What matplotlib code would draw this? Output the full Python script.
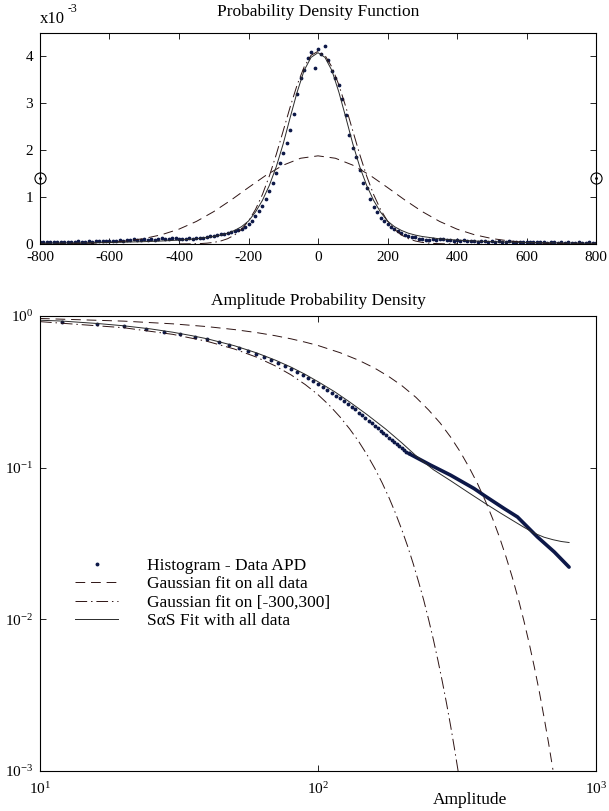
import matplotlib
matplotlib.use('Agg')
import numpy as np
import matplotlib.pyplot as plt
from matplotlib.ticker import FixedLocator, NullLocator, LogFormatterMathtext

plt.rcParams['font.family'] = ['Liberation Serif', 'DejaVu Serif']
plt.rcParams['mathtext.fontset'] = 'custom'
plt.rcParams['mathtext.rm'] = 'Liberation Serif'
plt.rcParams['axes.unicode_minus'] = False
plt.rcParams['font.size'] = 11

# ---------------- top panel data (pdf, units of 1e-3) ----------------
hist_x = list(range(-800, 801, 10))
hist_v = [0.04, 0.05, 0.04, 0.05, 0.04, 0.05, 0.05, 0.04, 0.05, 0.04,
          0.05, 0.06, 0.05, 0.05, 0.06, 0.05, 0.06, 0.07, 0.06, 0.06,
          0.07, 0.06, 0.07, 0.08, 0.07, 0.08, 0.09, 0.10, 0.08, 0.09,
          0.10, 0.08, 0.11, 0.09, 0.10, 0.12, 0.10, 0.11, 0.13, 0.12,
          0.11, 0.10, 0.11, 0.12, 0.11, 0.12, 0.12, 0.13, 0.14, 0.16,
          0.17, 0.19, 0.21, 0.22, 0.23, 0.25, 0.27, 0.29, 0.32, 0.36,
          0.42, 0.49, 0.59, 0.70, 0.82, 0.96, 1.12, 1.30, 1.52, 1.72,
          1.95, 2.15, 2.44, 2.78, 3.20, 3.55, 3.72, 3.96, 4.09, 3.76,
          4.15,
          4.06, 4.22, 3.92, 3.70, 3.55, 3.40, 3.10, 2.76, 2.33, 2.05,
          1.85, 1.58, 1.30, 1.20, 0.95, 0.78, 0.68, 0.56, 0.48, 0.42,
          0.37, 0.32, 0.28, 0.24, 0.20, 0.18, 0.15, 0.14, 0.11, 0.10,
          0.09, 0.09, 0.10, 0.08, 0.10, 0.11, 0.09, 0.08, 0.07, 0.09,
          0.06, 0.08, 0.07, 0.06, 0.07, 0.05, 0.06, 0.07, 0.05, 0.06,
          0.05, 0.07, 0.05, 0.04, 0.06, 0.05, 0.04, 0.05, 0.04, 0.05,
          0.04, 0.05, 0.04, 0.05, 0.04, 0.03, 0.05, 0.04, 0.03, 0.04,
          0.03, 0.04, 0.03, 0.03, 0.04, 0.03, 0.03, 0.04, 0.03, 0.03]

gall_x = list(range(-800, 801, 50))
gall_v = [0.0015, 0.0036, 0.008, 0.017, 0.034, 0.065, 0.117, 0.198, 0.317,
          0.481, 0.691, 0.938, 1.205, 1.464, 1.682, 1.829, 1.880,
          1.829, 1.682, 1.464, 1.205, 0.938, 0.691, 0.481, 0.317, 0.198,
          0.117, 0.065, 0.034, 0.017, 0.008, 0.0036, 0.0015]

g300_x = list(range(-400, 401, 20))
g300_v = [0.0008, 0.0019, 0.0042, 0.0088, 0.018, 0.034, 0.064, 0.113, 0.192,
          0.314, 0.490, 0.735, 1.055, 1.450, 1.912, 2.416, 2.925, 3.394,
          3.775, 4.024, 4.110,
          4.024, 3.775, 3.394, 2.925, 2.416, 1.912, 1.450, 1.055, 0.735,
          0.490, 0.314, 0.192, 0.113, 0.064, 0.034, 0.018, 0.0088, 0.0042,
          0.0019, 0.0008]

sas_x = [-800, -700, -600, -500, -450, -400, -350, -300, -280, -260, -240,
         -220, -200, -180, -160, -140, -120, -100, -80, -60, -40, -20, 0,
         20, 40, 60, 80, 100, 120, 140, 160, 180, 200, 220, 240, 260, 280,
         300, 350, 400, 450, 500, 600, 700, 800]
sas_v = [0.016, 0.022, 0.032, 0.05, 0.064, 0.083, 0.11, 0.16, 0.19, 0.23,
         0.29, 0.37, 0.49, 0.68, 0.93, 1.25, 1.65, 2.14, 2.70, 3.24, 3.70,
         3.98, 4.08,
         3.98, 3.70, 3.24, 2.70, 2.14, 1.65, 1.25, 0.93, 0.68, 0.49, 0.37,
         0.29, 0.23, 0.19, 0.16, 0.11, 0.083, 0.064, 0.05, 0.032, 0.022,
         0.016]

marker_x = [-800, 800]
marker_v = [1.4, 1.4]

# ---------------- bottom panel data (APD) ----------------
apd_amp = list(range(12, 213, 4))
apd_val = [0.917, 0.885, 0.859, 0.821, 0.788, 0.761, 0.730, 0.702, 0.671,
           0.643, 0.612, 0.588, 0.564, 0.536, 0.510, 0.487, 0.465, 0.445,
           0.425, 0.406, 0.388, 0.371, 0.354, 0.338, 0.324, 0.310, 0.298,
           0.286, 0.274, 0.263, 0.252, 0.242, 0.231, 0.221, 0.212, 0.204,
           0.196, 0.188, 0.182, 0.175, 0.169, 0.163, 0.158, 0.152, 0.148,
           0.143, 0.139, 0.135, 0.131, 0.127, 0.124]
tail_amp = [212, 254, 300, 364, 395, 467, 522, 616, 708, 800]
tail_val = [0.124, 0.104, 0.0892, 0.0729, 0.0658, 0.0538, 0.0473, 0.0349,
            0.0278, 0.0221]

apd_gall_amp = [10, 20, 30, 40, 50, 60, 70, 80, 90, 100, 120, 140, 160, 180,
                200, 225, 250, 275, 300, 325, 350, 375, 400, 425, 450, 475,
                500, 525, 550, 575, 600, 625, 650, 675, 700]
apd_gall_val = [0.963, 0.925, 0.888, 0.851, 0.814, 0.778, 0.742, 0.707,
                0.672, 0.639, 0.573, 0.511, 0.453, 0.398, 0.348, 0.291,
                0.240, 0.197, 0.159, 0.127, 0.100, 0.0783, 0.0604, 0.0460,
                0.0346, 0.0257, 0.0189, 0.0137, 0.00982, 0.00694, 0.00485,
                0.00335, 0.00227, 0.00153, 0.00102]

apd_g300_amp = [10, 20, 30, 40, 50, 60, 70, 80, 90, 100, 110, 120, 130, 140,
                150, 160, 170, 180, 190, 200, 210, 220, 230, 240, 250, 260,
                270, 280, 290, 300, 310, 320]
apd_g300_val = [0.918, 0.837, 0.757, 0.680, 0.606, 0.536, 0.470, 0.409,
                0.353, 0.303, 0.257, 0.216, 0.180, 0.149, 0.122, 0.0991,
                0.0796, 0.0635, 0.0501, 0.0392, 0.0304, 0.0233, 0.0177,
                0.0134, 0.00996, 0.00736, 0.00537, 0.00389, 0.00279,
                0.00198, 0.00139, 0.00097]

apd_sas_amp = [10, 12, 16, 20, 25, 30, 35, 40, 50, 60, 70, 80, 90, 100, 115,
               130, 150, 175, 200, 225, 260, 300, 350, 400, 455, 500, 550,
               600, 650, 700, 750, 800]
apd_sas_val = [0.938, 0.926, 0.893, 0.862, 0.822, 0.782, 0.743, 0.707, 0.637,
               0.572, 0.513, 0.460, 0.412, 0.369, 0.316, 0.271, 0.224, 0.180,
               0.146, 0.120, 0.097, 0.082, 0.068, 0.058, 0.050, 0.045,
               0.0405, 0.0370, 0.0348, 0.0335, 0.0326, 0.0321]

dot_col = '#0d1848'
dash_col = '#2e1414'
line_col = '#2a2a2a'
dashed = (0, (10, 6))
dashdot = (0, (12, 4, 1.5, 4))
big = 12.5

fig = plt.figure(figsize=(6.09, 8.11), dpi=100)

# ---------------- top ----------------
ax1 = fig.add_axes([40 / 609, 1 - 244 / 811, 556 / 609, 211 / 811])
ax1.plot(hist_x, hist_v, '.', color=dot_col, ms=3.4)
ax1.plot(gall_x, gall_v, color=dash_col, lw=0.7, ls=dashed)
ax1.plot(g300_x, g300_v, color=dash_col, lw=0.7, ls=dashdot)
ax1.plot(sas_x, sas_v, color=line_col, lw=0.7)
ax1.plot(marker_x, marker_v, 'o', mfc='none', mec='k', ms=8, mew=0.8,
         clip_on=False, zorder=5)
ax1.plot(marker_x, marker_v, '.', color='k', ms=2, clip_on=False, zorder=5)
ax1.set_xlim(-800, 800)
ax1.set_ylim(0, 4.5)
ax1.set_xticks(range(-800, 801, 200))
ax1.set_yticks([0, 1, 2, 3, 4])
ax1.set_title('Probability Density Function', fontsize=big, pad=12)
ax1.text(0.0, 1.03, 'x10', transform=ax1.transAxes, fontsize=12,
         ha='left', va='bottom')
ax1.text(0.05, 1.085, '-3', transform=ax1.transAxes, fontsize=8.5,
         ha='left', va='bottom')

# ---------------- bottom ----------------
ax2 = fig.add_axes([40 / 609, 1 - 771 / 811, 556 / 609, 455 / 811])
ax2.plot(apd_amp, apd_val, '.', color=dot_col, ms=3.6,
         label='Histogram - Data APD')
ax2.plot(tail_amp, tail_val, '-', color=dot_col, lw=2.6,
         solid_capstyle='round')
ax2.plot(apd_gall_amp, apd_gall_val, color=dash_col, lw=0.7, ls=dashed,
         label='Gaussian fit on all data')
ax2.plot(apd_g300_amp, apd_g300_val, color=dash_col, lw=0.7, ls=dashdot,
         label='Gaussian fit on [-300,300]')
ax2.plot(apd_sas_amp, apd_sas_val, color=line_col, lw=0.7,
         label='S\u03b1S Fit with all data')
ax2.set_xscale('log')
ax2.set_yscale('log')
ax2.set_xlim(10, 1000)
ax2.set_ylim(1e-3, 1)
ax2.xaxis.set_major_locator(FixedLocator([10, 100, 1000]))
ax2.yaxis.set_major_locator(FixedLocator([1e-3, 1e-2, 1e-1, 1]))
ax2.xaxis.set_major_formatter(LogFormatterMathtext())
ax2.yaxis.set_major_formatter(LogFormatterMathtext())
ax2.xaxis.set_minor_locator(NullLocator())
ax2.yaxis.set_minor_locator(NullLocator())
ax2.set_title('Amplitude Probability Density', fontsize=big, pad=8)
fig.text(470 / 609, 1 - 800 / 811, 'Amplitude', ha='center', va='center',
         fontsize=big)

leg = ax2.legend(loc='upper left', bbox_to_anchor=(0.047, 0.487),
                 frameon=False, handlelength=2.5, handletextpad=1.65,
                 labelspacing=0.12, borderpad=0, fontsize=big)

for ax in (ax1, ax2):
    ax.tick_params(direction='in', top=True, right=True, length=4,
                   width=0.6, labelsize=11, pad=5)
    for s in ax.spines.values():
        s.set_linewidth(0.8)
ax2.tick_params(axis='x', pad=7)

fig.savefig('out.png', dpi=100)
